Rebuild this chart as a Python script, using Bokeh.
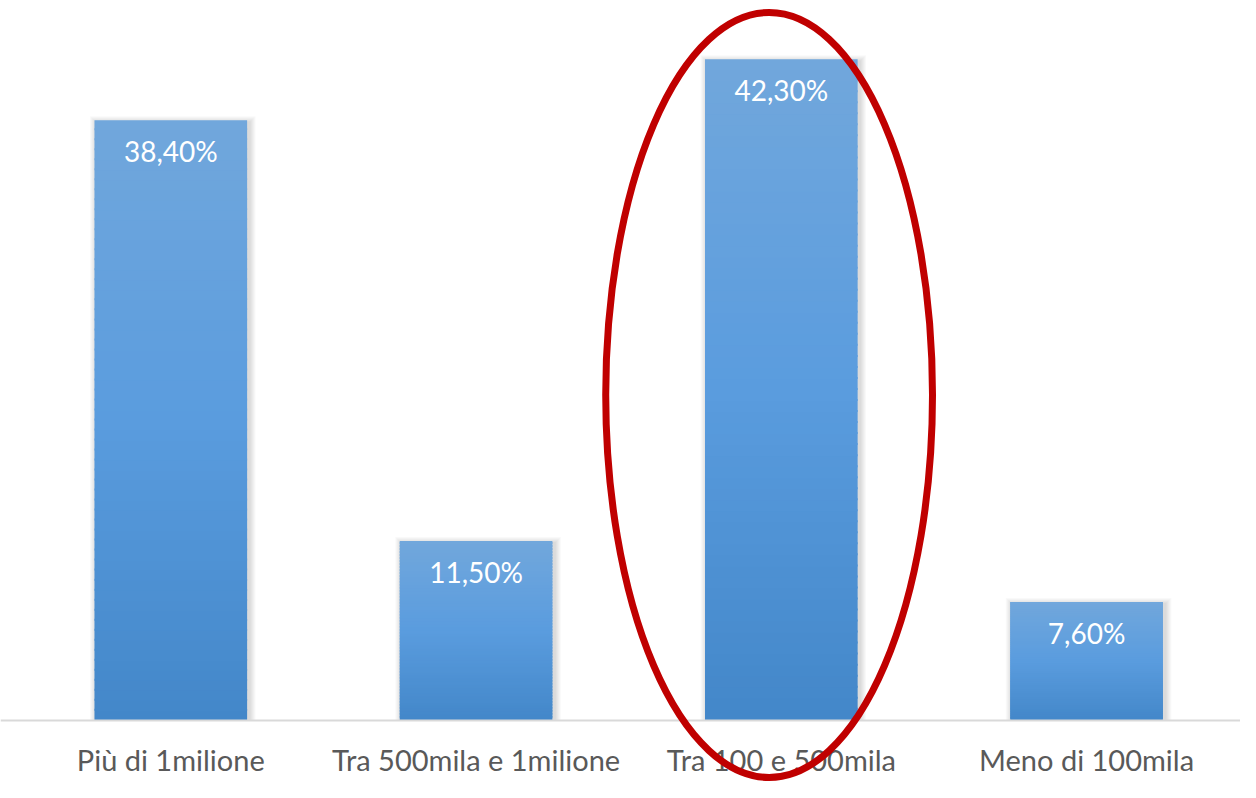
from bokeh.plotting import figure
from bokeh.models import Range1d, FixedTicker
from bokeh.core.properties import value
from bokeh.embed import file_html
from bokeh.resources import INLINE

# ---- data ----
categories = ["Più di 1milione", "Tra 500mila e 1milione", "Tra 100 e 500mila", "Meno di 100mila"]
values = [38.4, 11.5, 42.3, 7.6]
labels = ["38,40%", "11,50%", "42,30%", "7,60%"]
highlight_index = 2

# ---- layout constants ----
W, H = 1240, 782
SX, SY = 1240 / 1256, 782 / 798
PX_X = 309.2 * SX          # pixels per category
PX_Y = 15.96 * SY          # pixels per percent
CX0 = 172.5 * SX           # canvas x of first category centre
BASE = 735 * SY            # canvas y of baseline
BAR_W = 0.5

x_start = -CX0 / PX_X
x_end = (W - CX0) / PX_X
y_start = -(H - BASE) / PX_Y
y_end = BASE / PX_Y

p = figure(width=W, height=H, output_backend="svg", toolbar_location=None,
           x_range=Range1d(x_start, x_end), y_range=Range1d(y_start, y_end),
           min_border=0, min_border_left=0, min_border_right=0,
           min_border_top=0, min_border_bottom=0)
p.outline_line_color = None
p.xgrid.visible = False
p.ygrid.visible = False
p.yaxis.visible = False
p.background_fill_color = "white"
p.border_fill_color = "white"

def lerp(c1, c2, t):
    a = [int(c1[i:i+2], 16) for i in (1, 3, 5)]
    b = [int(c2[i:i+2], 16) for i in (1, 3, 5)]
    return "#%02x%02x%02x" % tuple(round(a[k] + (b[k] - a[k]) * t) for k in range(3))

c_bottom, c_mid, c_top = "#4387c9", "#5a9cde", "#71a7dc"

px_x = 1.0 / PX_X
px_y = 1.0 / PX_Y

# soft shadows
for i, v in enumerate(values):
    for k in range(1, 7):
        p.quad(left=[i - BAR_W / 2 + 1.5 * px_x - k * px_x],
               right=[i + BAR_W / 2 + 2.5 * px_x + k * px_x],
               bottom=[0], top=[v - 2.0 * px_y + k * px_y],
               fill_color="black", fill_alpha=0.025, line_color=None)

# gradient bars
N = 60
for i, v in enumerate(values):
    lefts, rights, bottoms, tops, cols = [], [], [], [], []
    for s in range(N):
        t0 = s / N
        t1 = (s + 1) / N
        tm = (t0 + t1) / 2
        col = lerp(c_bottom, c_mid, tm / 0.5) if tm < 0.5 else lerp(c_mid, c_top, (tm - 0.5) / 0.5)
        lefts.append(i - BAR_W / 2)
        rights.append(i + BAR_W / 2)
        bottoms.append(v * t0)
        tops.append(min(v, v * t1 + 2 * px_y))
        cols.append(col)
    p.quad(left=lefts, right=rights, bottom=bottoms, top=tops,
           fill_color=cols, line_color=None)

# value labels
p.text(x=list(range(len(values))), y=values, text=labels, y_offset=31,
       text_align="center", text_baseline="middle", text_color="white",
       text_font=value("Lato"), text_font_size="28px")

# x axis
ax = p.xaxis[0]
ax.fixed_location = 0
ax.ticker = FixedTicker(ticks=list(range(len(categories))))
ax.major_label_overrides = {i: c for i, c in enumerate(categories)}
ax.axis_line_color = "#d9d9d9"
ax.axis_line_width = 2
ax.major_tick_line_color = None
ax.minor_tick_line_color = None
ax.major_tick_out = 0
ax.major_tick_in = 0
ax.major_label_standoff = 21
ax.major_label_text_font = "Lato"
ax.major_label_text_font_size = "29px"
ax.major_label_text_color = "#595959"

# highlight ellipse (around the highlighted category)
r = p.ellipse(x=[highlight_index - 0.04], y=[20.83], width=[331 * SX / PX_X], height=[781 * SY / PX_Y],
              fill_color=None, line_color="#c00000", line_width=7)
r.level = "overlay"

open("out.html", "w").write(file_html(p, INLINE))
